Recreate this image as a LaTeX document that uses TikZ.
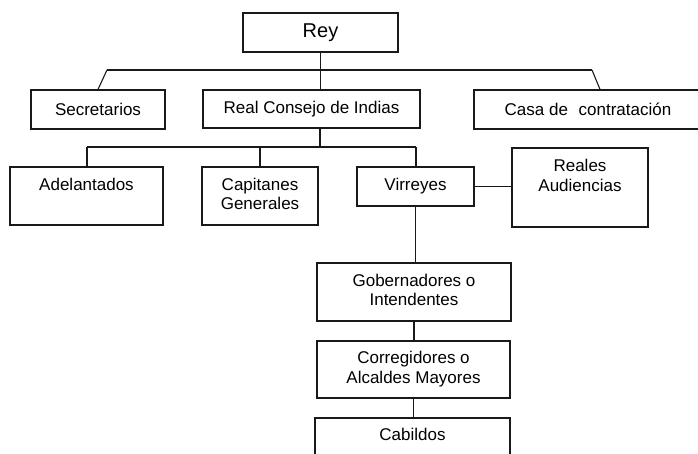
\documentclass[tikz,border=0pt]{standalone}
\usepackage{fontspec}
\setmainfont{Liberation Sans}
\begin{document}
\begin{tikzpicture}[x=1pt,y=-1pt,
  box/.style={draw=black!90, line width=1.3pt, inner sep=0pt, align=center,
    font=\fontsize{17}{19.5}\selectfont},
  conn/.style={draw=black!90, line width=1.1pt}]
\useasboundingbox (0,0) rectangle (698,453);
% boxes
\node[box, minimum width=155pt, minimum height=39pt, font=\fontsize{20}{24}\selectfont] (rey) at (320.5,32.5) {Rey};
\node[box, minimum width=134pt, minimum height=39pt] (sec) at (98,109.5) {Secretarios};
\node[box, minimum width=217pt, minimum height=38pt] (rcdi) at (311.5,109) {Real Consejo de Indias};
\node[box, minimum width=228pt, minimum height=39pt] (casa) at (588,109.5) {Casa de\hspace{0.35em} contratación};
\node[box, minimum width=153pt, minimum height=58pt] (adel) at (86.5,196) {\strut Adelantados\\\strut};
\node[box, minimum width=116pt, minimum height=58pt] (cap) at (260,196) {\strut Capitanes\\\strut Generales};
\node[box, minimum width=117pt, minimum height=39pt] (vir) at (415.5,186.5) {Virreyes};
\node[box, minimum width=136pt, minimum height=79pt] (real) at (580,187.5) {\strut Reales\\\strut Audiencias\\\strut};
\node[box, minimum width=194pt, minimum height=58pt] (gob) at (414,292) {\strut Gobernadores o\\\strut Intendentes};
\node[box, minimum width=193pt, minimum height=57pt] (corr) at (413.5,369.5) {\strut Corregidores o\\\strut Alcaldes Mayores};
\node[box, minimum width=195pt, minimum height=56pt] (cab) at (412.5,446) {\strut Cabildos\\\strut};
% junction coordinates
\coordinate (hl) at (107,70);
\coordinate (hr) at (592,70);
\coordinate (hrb) at (600,90);
\coordinate (j2) at (320,147);
\coordinate (h2l) at (87,147);
\coordinate (h2r) at (416,147);
% connectors
\draw[conn] (rey.south) -- (rey.south |- rcdi.north);
\draw[conn] (hl) -- (hr);
\draw[conn] (hl) -- (sec.north);
\draw[conn] (hr) -- (hrb |- casa.north);
\draw[conn] (j2 |- rcdi.south) -- (j2);
\draw[conn] (h2l) -- (h2r);
\draw[conn] (h2l) -- (h2l |- adel.north);
\draw[conn] (cap.north |- h2l) -- (cap.north);
\draw[conn] (h2r) -- (h2r |- vir.north);
\draw[conn] (vir.east) -- (real.west |- vir.east);
\draw[conn] (vir.south) -- (vir.south |- gob.north);
\draw[conn] (gob.south) -- (gob.south |- corr.north);
\draw[conn] (corr.south) -- (corr.south |- cab.north);
\end{tikzpicture}
\end{document}
